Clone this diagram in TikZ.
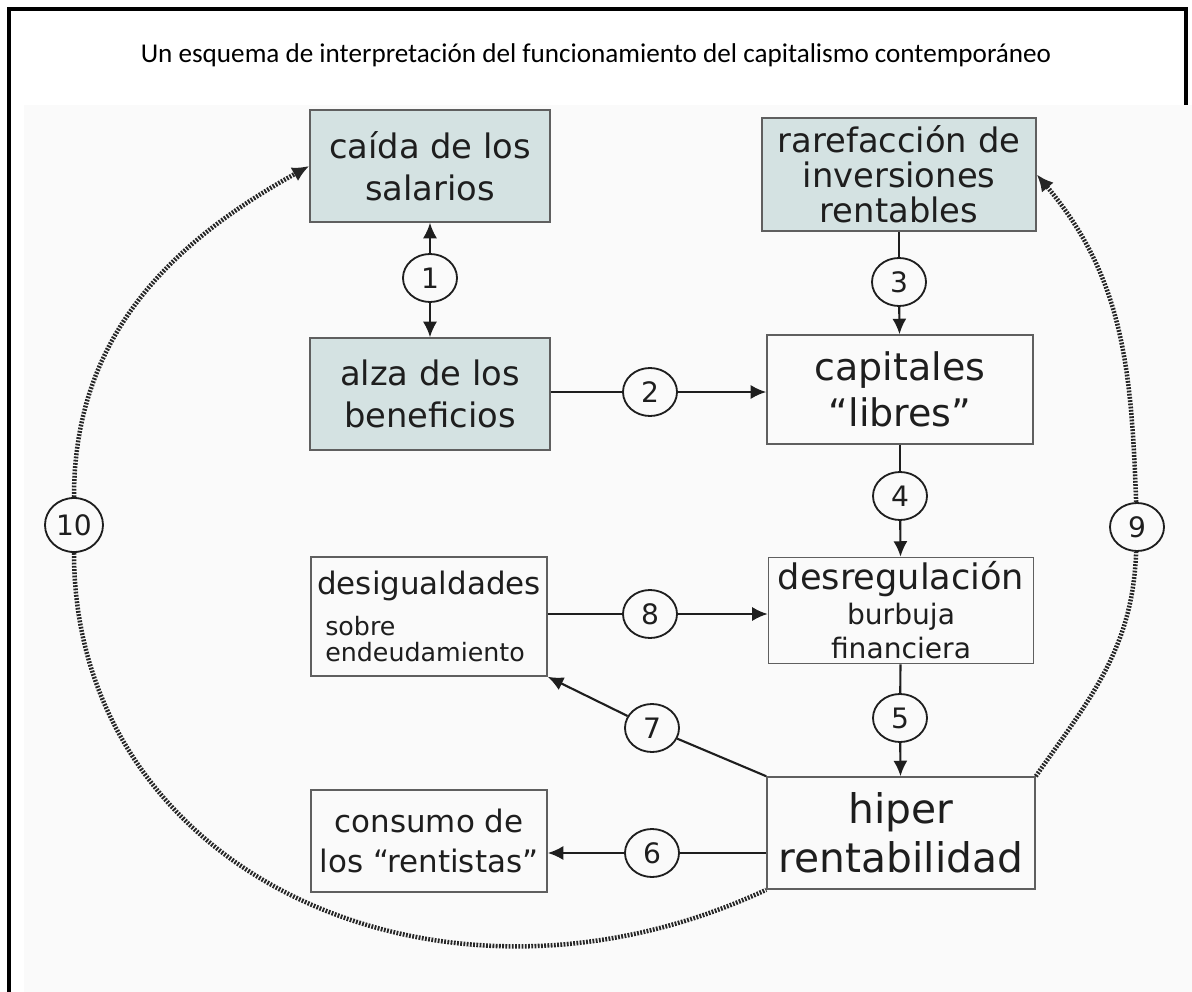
\documentclass[tikz,border=0pt]{standalone}
\usepackage{fontspec}
\setmainfont{DejaVu Sans}
\newfontfamily\titlefont{Carlito}
\usepackage{tikz}
\usetikzlibrary{arrows.meta,calc,shapes.geometric}
\definecolor{boxfill}{RGB}{212,226,226}
\definecolor{boxline}{RGB}{95,95,95}
\definecolor{ink}{RGB}{30,30,30}
\tikzstyle{plain}=[draw=boxline,line width=1.1pt,text=ink,align=center,inner sep=0pt]
\tikzstyle{shaded}=[plain,fill=boxfill]
\tikzstyle{num}=[draw=ink,ellipse,line width=1.3pt,text=ink,minimum width=1.35cm,minimum height=1.2cm,inner sep=0pt,font=\fontsize{20}{20}\selectfont]
\tikzstyle{link}=[draw=ink,line width=1.5pt]
\tikzstyle{flow}=[link,-{Latex[length=11pt,width=10pt]}]
\tikzstyle{loopback}=[draw=black!85,line width=3.2pt,dash pattern=on 1.3pt off 1pt]

\begin{document}
\begin{tikzpicture}[x=0.025cm,y=-0.025cm]
\useasboundingbox (0,0) rectangle (1192,992);
\fill[black!2] (24,105) rectangle (1192,992);
\draw[line width=2.2pt] (9,992) -- (9,9) -- (1186,9) -- (1186,105);
\node[font=\titlefont\fontsize{19.3}{23}\selectfont] (title) at (596,55)
  {Un esquema de interpretación del funcionamiento del capitalismo contemporáneo};

% cajas
\node[shaded,minimum width=6cm,minimum height=2.8cm,font=\fontsize{24}{30}\selectfont] (caida) at (430,166) {caída de los\\salarios};
\node[shaded,minimum width=6cm,minimum height=2.8cm,font=\fontsize{24}{30}\selectfont] (alza) at (430,394) {alza de los\\beneficios};
\node[shaded,minimum width=6.85cm,minimum height=2.825cm,font=\fontsize{24}{25}\selectfont] (rar) at (899,174.5) {rarefacción de\\inversiones\\rentables};
\node[plain,minimum width=6.65cm,minimum height=2.725cm,font=\fontsize{27}{33}\selectfont] (cap) at (900,389.5) {capitales\\“libres”};
\node[plain,minimum width=6.625cm,minimum height=2.65cm,font=\fontsize{20}{24.5}\selectfont] (desr) at (901,610.5)
  {{\fontsize{25}{24.5}\selectfont desregulación}\\burbuja\\financiera};
\node[plain,minimum width=5.9cm,minimum height=2.975cm,align=left,font=\fontsize{18}{19}\selectfont] (desig) at (429,616.5)
  {{\fontsize{22}{19}\selectfont desigualdades}\\[10pt]\ sobre\\\ endeudamiento};
\node[plain,minimum width=6.7cm,minimum height=2.8cm,font=\fontsize{29}{35}\selectfont] (hiper) at (901,833) {hiper\\rentabilidad};
\node[plain,minimum width=5.9cm,minimum height=2.55cm,font=\fontsize{22}{28}\selectfont] (cons) at (429,841) {consumo de\\los “rentistas”};

% numeros
\node[num] (n1) at (430,278) {1};
\node[num] (n2) at (650,392) {2};
\node[num] (n3) at (899,282) {3};
\node[num] (n4) at (900,496) {4};
\node[num] (n5) at (900,718) {5};
\node[num] (n6) at (652,853) {6};
\node[num] (n7) at (652,728) {7};
\node[num] (n8) at (650,614) {8};
\node[num] (n9) at (1137,527) {9};
\node[num,minimum width=1.45cm,minimum height=1.35cm] (n10) at (74,525) {10};

% flechas
\draw[flow] (n1) -- (caida);
\draw[flow] (n1) -- (alza);
\draw[link] (n2 -| alza.east) -- (n2);
\draw[flow] (n2) -- (n2 -| cap.west);
\draw[link] (rar) -- (n3);
\draw[flow] (n3) -- (cap);
\draw[link] (cap) -- (n4);
\draw[flow] (n4) -- (desr);
\draw[link] (n8 -| desig.east) -- (n8);
\draw[flow] (n8) -- (n8 -| desr.west);
\draw[link] (desr) -- (n5);
\draw[flow] (n5) -- (hiper);
\draw[link] (hiper.north west) -- (n7);
\draw[flow] (n7) -- (desig.south east);
\draw[link] (n6 -| hiper.west) -- (n6);
\draw[flow] (n6) -- (n6 -| cons.east);

% bucles punteados
\draw[loopback] (hiper.north east) to[out=55,in=-92] (n9);
\draw[loopback,-{Latex[length=12pt,width=11pt]}] (n9) to[out=92,in=-50] (rar.east);
\draw[loopback] (n10) to[out=-90,in=205,out distance=8cm,in distance=9cm] (hiper.south west);
\draw[loopback,-{Latex[length=12pt,width=11pt]}] (n10) to[out=90,in=209,out distance=4cm,in distance=4cm] (caida.west);
\end{tikzpicture}
\end{document}
